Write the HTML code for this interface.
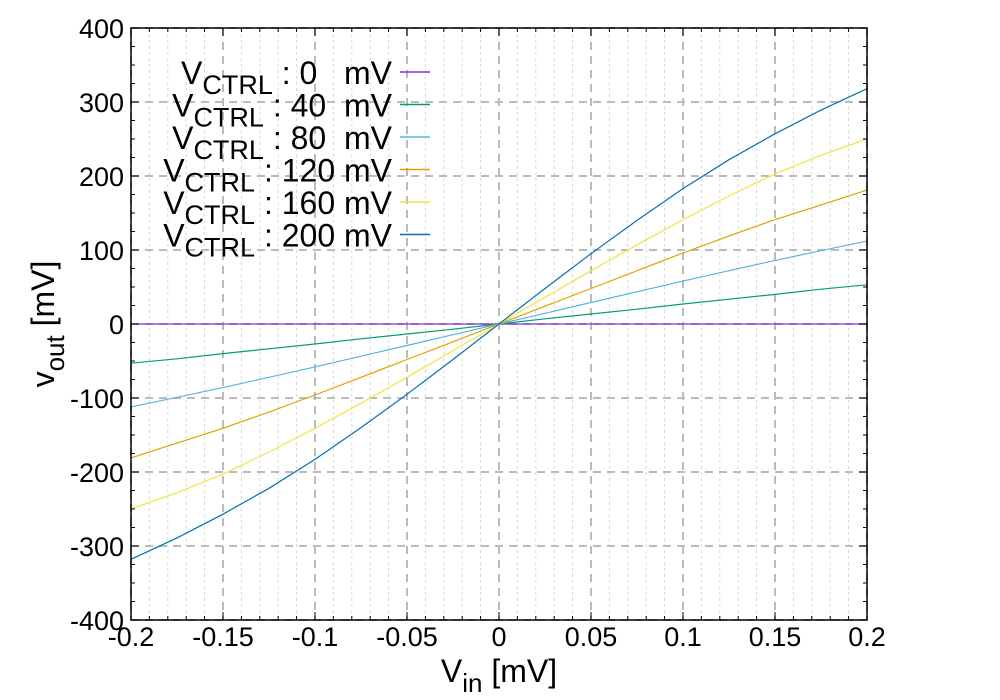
<!DOCTYPE html>
<html><head><meta charset="utf-8"><style>body{margin:0;background:#fff}svg{display:block}</style></head>
<body>
<svg id="chart" width="1000" height="700" xmlns="http://www.w3.org/2000/svg" font-family="Liberation Sans, Arial, sans-serif"></svg>
<script>
const xs = [-0.2,-0.175,-0.15,-0.125,-0.1,-0.075,-0.05,-0.025,0,0.025,0.05,0.075,0.1,0.125,0.15,0.175,0.2];
const v200 = [-318,-289,-257,-222,-183,-140,-95,-48,0,48,95,140,183,222,257,289,318];
const v160 = [-250,-228,-203,-173,-141,-107,-72,-36,0,36,72,107,141,173,203,228,250];
const v120 = [-181,-161,-141,-119,-96,-72,-48,-24,0,24,48,72,96,119,141,161,181];
const v80 = [-112,-99,-86,-72,-58,-43.5,-29,-14.5,0,14.5,29,43.5,58,72,86,99,112];
const v40 = [-53,-47,-40,-33.5,-27,-20,-13.5,-7,0,7,13.5,20,27,33.5,40,47,53];
const v0 = [0,0,0,0,0,0,0,0,0,0,0,0,0,0,0,0,0];
const xTicks = [-0.2,-0.15,-0.1,-0.05,0,0.05,0.1,0.15,0.2];
const xTickLabels = ["-0.2","-0.15","-0.1","-0.05","0","0.05","0.1","0.15","0.2"];
const yTicks = [-400,-300,-200,-100,0,100,200,300,400];
const legendLabels = ["0  ","40 ","80 ","120","160","200"];
const legendColors = ["#8a2be2","#009e73","#56b4e9","#e69f00","#f0e442","#0072b2"];

const L=131,R=867,T=28,B=620;
const sx=v=>L+(v+0.2)/0.4*(R-L);
const sy=v=>B-(v+400)/800*(B-T);
const svg=document.getElementById('chart');
const NS='http://www.w3.org/2000/svg';
function mk(tag,attrs,parent){const e=document.createElementNS(NS,tag);for(const k in attrs)e.setAttribute(k,attrs[k]);(parent||svg).appendChild(e);return e;}

const grid=mk('g',{});


for(let i=-20;i<=20;i++){const v=i/100;if(i%5===0)continue;
 mk('line',{x1:sx(v),x2:sx(v),y1:T,y2:B,stroke:'#d8d8d8','stroke-width':1,'stroke-dasharray':'3,3'},grid);}
xTicks.forEach(v=>mk('line',{x1:sx(v),x2:sx(v),y1:T,y2:B,stroke:'#bbb','stroke-width':2,'stroke-dasharray':'8,6'},grid));
yTicks.forEach(v=>mk('line',{x1:L,x2:R,y1:sy(v),y2:sy(v),stroke:'#bbb','stroke-width':2,'stroke-dasharray':'8,6'},grid));

const series=[v0,v40,v80,v120,v160,v200];
series.forEach((s,i)=>{
 const d=s.map((v,j)=>(j?'L':'M')+sx(xs[j]).toFixed(1)+','+sy(v).toFixed(1)).join(' ');
 const p=mk('path',{d:d,fill:'none',stroke:legendColors[i],'stroke-width':1.2});
 
 
});

const frame=mk('rect',{x:L,y:T,width:R-L,height:B-T,fill:'none',stroke:'#000','stroke-width':1.5});


for(let i=-20;i<=20;i++){const x=sx(i/100);const len=i%5===0?8:4;
 mk('line',{x1:x,x2:x,y1:B,y2:B-len,stroke:'#000'});mk('line',{x1:x,x2:x,y1:T,y2:T+len,stroke:'#000'});}
for(let v=-400;v<=400;v+=25){const y=sy(v);const len=v%100===0?8:4;
 mk('line',{x1:L,x2:L+len,y1:y,y2:y,stroke:'#000'});mk('line',{x1:R,x2:R-len,y1:y,y2:y,stroke:'#000'});}

xTicks.forEach((v,i)=>{const t=mk('text',{x:sx(v),y:646,'font-size':27,'text-anchor':'middle'});t.textContent=xTickLabels[i];
 
 });
yTicks.forEach(v=>{const t=mk('text',{x:124,y:sy(v)+10,'font-size':27,'text-anchor':'end'});t.textContent=String(v);
 
 });

const xt=mk('text',{x:499,y:682,'font-size':32,'text-anchor':'middle'});
xt.innerHTML='V<tspan font-size="26" dy="10">in</tspan><tspan dy="-10"> [mV]</tspan>';


const yt=mk('text',{x:0,y:0,'font-size':32,'text-anchor':'middle',transform:'translate(54,324) rotate(-90)'});
yt.innerHTML='v<tspan font-size="26" dy="10">out</tspan><tspan dy="-10"> [mV]</tspan>';



legendLabels.forEach((lab,i)=>{
 const y=84+i*32.5;
 const g=mk('g',{});
 
 
 const t=mk('text',{x:392,y:y,'font-size':32,'text-anchor':'end',style:'white-space:pre'},g);
 t.innerHTML='V<tspan font-size="27" dy="10">CTRL</tspan><tspan dy="-10"> : '+lab+' mV</tspan>';
 mk('line',{x1:400,x2:430,y1:y-12,y2:y-12,stroke:legendColors[i],'stroke-width':1.5},g);
});
</script>
</body></html>
